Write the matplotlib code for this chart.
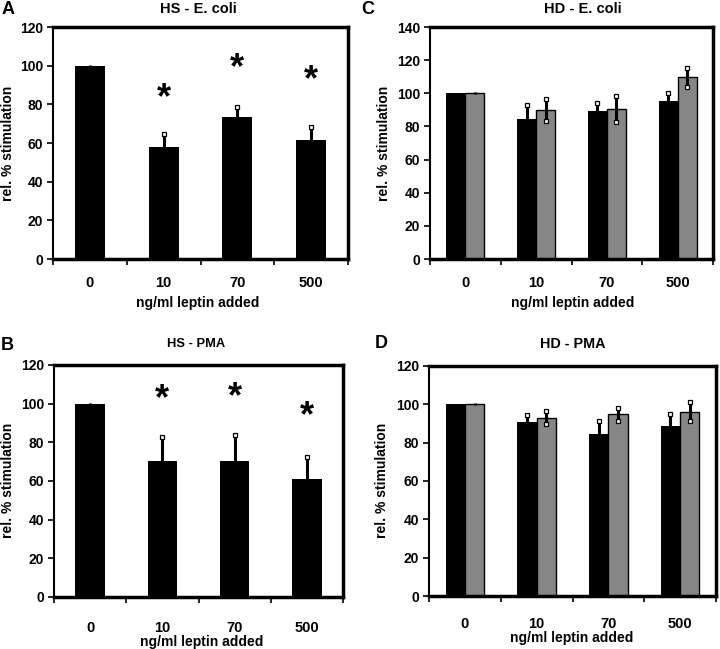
import numpy as np
import matplotlib.pyplot as plt

plt.rcParams['font.family'] = ['Liberation Sans', 'DejaVu Sans']
plt.rcParams['font.weight'] = 'bold'

doses = ['0', '10', '70', '500']

# HS - E. coli (one series + significance stars)
hs_ecoli = [100, 58.1, 73.6, 61.7]
hs_ecoli_err = [0.3, 6.4, 4.8, 6.4]
hs_ecoli_star = [None, 83, 98.5, 92]

# HS - PMA
hs_pma = [100, 70.3, 70.3, 61.0]
hs_pma_err = [0.2, 12.7, 13.6, 11.4]
hs_pma_star = [None, 102, 103, 93.5]

# HD - E. coli (black / grey series)
hd_ecoli_black = [100, 84.4, 89.1, 95.1]
hd_ecoli_black_err = [0.2, 8.4, 4.8, 5.0]
hd_ecoli_grey = [100, 90.0, 90.7, 109.7]
hd_ecoli_grey_err = [0.6, 6.6, 7.9, 5.8]

# HD - PMA
hd_pma_black = [100, 90.6, 84.7, 88.5]
hd_pma_black_err = [0.2, 3.8, 6.6, 6.3]
hd_pma_grey = [100, 93.0, 94.8, 96.2]
hd_pma_grey_err = [0.5, 3.5, 3.3, 5.0]

W, H = 720, 649
fig = plt.figure(figsize=(W / 100, H / 100), dpi=100)


def box(l, t, r, b):
    return [l / W, 1 - b / H, (r - l) / W, (b - t) / H]


def err_bar(ax, x, y, e, both):
    x = np.asarray(x, float)
    y = np.asarray(y, float)
    e = np.asarray(e, float)
    low = e if both else np.zeros_like(e)
    ax.errorbar(x, y, yerr=[low, e], fmt='none', ecolor='black',
                elinewidth=2.2, capsize=0, zorder=3)
    m = e >= 1  # tiny errors: caps hidden in the bar edge
    ax.plot(x[m], (y + e)[m], 's', ms=3.2, mfc='white', mec='black', mew=0.9, zorder=4)
    if both:
        ax.plot(x[m], (y - e)[m], 's', ms=3.2, mfc='white', mec='black', mew=0.9, zorder=4)


def setup(ax, ymax, tickpad):
    ax.set_xlim(-0.5, 3.5)
    ax.set_ylim(0, ymax)
    ax.set_yticks(np.arange(0, ymax + 1, 20))
    ax.tick_params(axis='y', labelsize=10, length=4, width=1.2, pad=3)
    ax.set_xticks(range(4))
    ax.set_xticklabels(doses)
    ax.tick_params(axis='x', which='major', length=0, labelsize=10.5, pad=tickpad)
    ax.set_xticks(np.arange(-0.5, 4, 1), minor=True)
    ax.tick_params(axis='x', which='minor', length=4, width=1.2)
    for s in ['top', 'right', 'bottom']:
        ax.spines[s].set_linewidth(2.5)
    ax.spines['left'].set_linewidth(1.5)


x = np.arange(4)

# A
axA = fig.add_axes(box(53, 27, 348, 259))
axA.bar(x, hs_ecoli, width=0.41, color='black')
err_bar(axA, x, hs_ecoli, hs_ecoli_err, False)
for i, s in enumerate(hs_ecoli_star):
    if s is not None:
        axA.text(i, s, '*', ha='center', va='center', fontsize=26)
setup(axA, 120, 12)

# B
axB = fig.add_axes(box(54, 365, 343, 597))
axB.bar(x, hs_pma, width=0.41, color='black')
err_bar(axB, x, hs_pma, hs_pma_err, False)
for i, s in enumerate(hs_pma_star):
    if s is not None:
        axB.text(i, s, '*', ha='center', va='center', fontsize=26)
setup(axB, 120, 17)

# C
axC = fig.add_axes(box(430, 27, 713, 259))
bw = 0.27
axC.bar(x - bw / 2, hd_ecoli_black, width=bw, color='black')
axC.bar(x + bw / 2, hd_ecoli_grey, width=bw, color='#868686', edgecolor='black', linewidth=1)
err_bar(axC, x - bw / 2, hd_ecoli_black, hd_ecoli_black_err, False)
err_bar(axC, x + bw / 2, hd_ecoli_grey, hd_ecoli_grey_err, True)
setup(axC, 140, 12)

# D
axD = fig.add_axes(box(429, 366, 716, 596))
axD.bar(x - bw / 2, hd_pma_black, width=bw, color='black')
axD.bar(x + bw / 2, hd_pma_grey, width=bw, color='#868686', edgecolor='black', linewidth=1)
err_bar(axD, x - bw / 2, hd_pma_black, hd_pma_black_err, False)
err_bar(axD, x + bw / 2, hd_pma_grey, hd_pma_grey_err, True)
setup(axD, 120, 15)


# titles, letters, labels
def ftext(px, py, s, **kw):
    fig.text(px / W, 1 - py / H, s, ha='center', va='center', **kw)


ftext(198, 9, 'HS - E. coli', fontsize=10.5)
ftext(583, 9, 'HD - E. coli', fontsize=10.5)
ftext(196, 344, 'HS - PMA', fontsize=9.3)
ftext(573, 344, 'HD - PMA', fontsize=10.4)

ftext(8, 9, 'A', fontsize=13)
ftext(368, 9, 'C', fontsize=13)
ftext(7, 345, 'B', fontsize=13)
ftext(381, 344, 'D', fontsize=13)

for px, py in [(198, 303), (573, 303), (202, 642), (572, 638)]:
    ftext(px, py, 'ng/ml leptin added', fontsize=10)

for px, py in [(8, 143), (384, 143), (8, 480), (382, 480)]:
    ftext(px, py, 'rel. % stimulation', fontsize=10, rotation=90)

fig.savefig('out.png', dpi=100)
